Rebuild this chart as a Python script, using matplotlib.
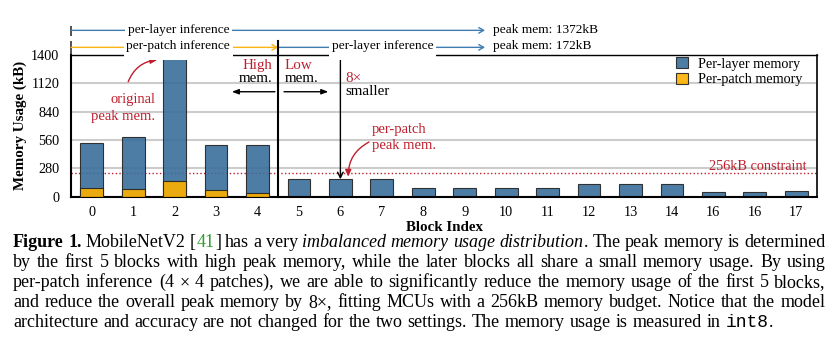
import matplotlib
matplotlib.use("Agg")
import matplotlib.pyplot as plt
import matplotlib.transforms as mtransforms
from matplotlib.path import Path

plt.rcParams['font.family'] = ['Liberation Serif', 'DejaVu Serif']

W, H = 835, 343

# data
block_labels = ['0', '1', '2', '3', '4', '5', '6', '7', '8', '9', '10', '11',
                '12', '13', '14', '16', '16', '17']
per_layer = [534, 590, 1372, 508, 508, 172, 172, 172, 85, 85, 85, 87,
             126, 126, 126, 50, 50, 57]
per_patch = [83, 76, 155, 69, 34]
peak_layer = 1372
peak_patch = 172
constraint = 232
yticks = [0, 280, 560, 840, 1120, 1400]

caption_lines = [
    [("Figure 1.", "bold"), (" MobileNetV2 [", "rm"), ("41", "cite"), ("] has a very ", "rm"),
     ("imbalanced memory usage distribution", "it"), (". The peak memory is determined", "rm")],
    [("by the first 5 blocks with high peak memory, while the later blocks all share a small "
      "memory usage. By using", "rm")],
    [("per-patch inference (4 \u00d7 4 patches), we are able to significantly reduce the memory "
      "usage of the first 5 blocks,", "rm")],
    [("and reduce the overall peak memory by 8\u00d7, fitting MCUs with a 256kB memory budget. "
      "Notice that the model", "rm")],
    [("architecture and accuracy are not changed for the two settings. The memory usage is "
      "measured in ", "rm"), ("int8", "tt"), (".", "rm")],
]

BLUE = '#3a6f9b'
ORANGE = '#fdb100'
RED = '#be1e2d'
LINE_BLUE = '#3f7db0'
LINE_ORANGE = '#fdb515'


def low_box(x0, y0, width, height, mutation_size):
    # white box that reaches down far enough to hide the top spine
    px = 0.2 * mutation_size
    top = 0.15 * mutation_size
    down = 0.6 * mutation_size
    return Path([(x0 - px, y0 - down), (x0 + width + px, y0 - down),
                 (x0 + width + px, y0 + height + top), (x0 - px, y0 + height + top),
                 (x0 - px, y0 - down)], closed=True)


def split_words(runs):
    words, cur = [], []
    for text, style in runs:
        for i, part in enumerate(text.split(' ')):
            if i > 0 and cur:
                words.append(cur)
                cur = []
            if part:
                cur.append((part, style))
    if cur:
        words.append(cur)
    return words


def draw_caption(fig, lines, x0, x1, y0, dy, size):
    styles = {
        'rm': dict(color='black'),
        'bold': dict(color='black', fontweight='bold'),
        'it': dict(color='black', fontstyle='italic'),
        'cite': dict(color='#2e9e2e'),
        'tt': dict(color='black', family=['Liberation Mono', 'DejaVu Sans Mono']),
    }
    renderer = fig.canvas.get_renderer()
    for i, runs in enumerate(lines):
        y = 1 - (y0 + i * dy) / H
        placed = []
        for word in split_words(runs):
            pieces = []
            for s, st in word:
                t = fig.text(0, y, s, fontsize=size, va='baseline', **styles[st])
                pieces.append((t, t.get_window_extent(renderer).width))
            placed.append(pieces)
        widths = [sum(w for _, w in p) for p in placed]
        if i == len(lines) - 1:
            gap = 0.25 * size * fig.dpi / 72
        else:
            gap = (x1 - x0 - sum(widths)) / (len(placed) - 1)
        x = x0
        for pieces in placed:
            for t, w in pieces:
                t.set_x(x / W)
                x += w + 0.4
            x += gap


fig = plt.figure(figsize=(W / 100, H / 100), dpi=100)
ax = fig.add_axes([71 / W, 1 - 196.7 / H, 746 / W, 141.7 / H])

x = list(range(len(per_layer)))
ax.bar(x, per_layer, width=0.55, color=BLUE, alpha=0.9, edgecolor='#222222',
       linewidth=0.8, zorder=2, label='Per-layer memory')
ax.bar(x[:len(per_patch)], per_patch, width=0.55, color=ORANGE, alpha=0.9,
       edgecolor='#222222', linewidth=0.8, zorder=3, label='Per-patch memory')

ax.axhline(constraint, color=RED, ls=':', lw=1, zorder=1.5)
ax.text(17.24, constraint + 31, '256kB constraint', ha='right', va='baseline',
        color=RED, fontsize=10.3)

ax.set_xlim(-0.5, 17.5)
ax.set_ylim(0, 1400)
ax.set_yticks(yticks)
ax.set_xticks(x)
ax.set_xticklabels(block_labels)
ax.tick_params(axis='both', length=0, labelsize=10.3)
ax.tick_params(axis='y', pad=8.5)
ax.tick_params(axis='x', pad=7)
ax.yaxis.grid(True, color='#cccccc', lw=1.5)
ax.set_axisbelow(True)
for side in ['left', 'bottom']:
    ax.spines[side].set_linewidth(1.5)
ax.spines['top'].set_linewidth(1.0)
ax.spines['right'].set_linewidth(1.2)

ax.set_ylabel('Memory Usage (kB)', fontweight='bold', fontsize=10.8, labelpad=3)
ax.set_xlabel('Block Index', fontweight='bold', fontsize=10.8, labelpad=1)

ax.legend(loc='upper left', bbox_to_anchor=(0.811, 0.985), frameon=False, fontsize=10.2,
          handlelength=0.85, handleheight=0.85, handletextpad=0.7, labelspacing=0.15,
          borderpad=0, borderaxespad=0)

# inference scheme rows above the axes
blend = mtransforms.blended_transform_factory(ax.transData, ax.transAxes)
split = len(per_patch) - 0.5
row1, row2 = 1.174, 1.054
ax.vlines([-0.5, -0.5], [1.133, 1.0], [1.204, 1.099], transform=blend,
          color='#333333', lw=1.2, clip_on=False)
ax.axvline(split, ymin=0, ymax=1.099, color='black', lw=1.5, clip_on=False, zorder=4)

arrow_kw = dict(shrinkA=0, shrinkB=0, lw=1)
ax.annotate('', xy=(9.49, row1), xytext=(-0.5, row1), xycoords=blend, textcoords=blend,
            arrowprops=dict(arrowstyle='->, head_length=0.35, head_width=0.2',
                            color=LINE_BLUE, **arrow_kw), zorder=3)
ax.annotate('', xy=(split, row2), xytext=(-0.5, row2), xycoords=blend, textcoords=blend,
            arrowprops=dict(arrowstyle='->, head_length=0.35, head_width=0.2',
                            color=LINE_ORANGE, **arrow_kw), zorder=3)
ax.annotate('', xy=(9.49, row2), xytext=(split, row2), xycoords=blend, textcoords=blend,
            arrowprops=dict(arrowstyle='->, head_length=0.35, head_width=0.2',
                            color=LINE_BLUE, **arrow_kw), zorder=3)

ax.text(2.09, 1.155, 'per-layer inference', transform=blend, ha='center', va='baseline',
        fontsize=9.6, zorder=6, bbox=dict(boxstyle='square,pad=0.2', fc='white', ec='none'))
ax.text(2.09, 1.040, 'per-patch inference', transform=blend, ha='center', va='baseline',
        fontsize=9.6, zorder=6, bbox=dict(boxstyle=low_box, fc='white', ec='none'))
ax.text(7.02, 1.040, 'per-layer inference', transform=blend, ha='center', va='baseline',
        fontsize=9.6, zorder=6, bbox=dict(boxstyle=low_box, fc='white', ec='none'))
ax.text(9.69, 1.155, 'peak mem: %dkB' % peak_layer, transform=blend, ha='left',
        va='baseline', fontsize=9.6)
ax.text(9.69, 1.040, 'peak mem: %dkB' % peak_patch, transform=blend, ha='left',
        va='baseline', fontsize=9.6)

# annotations inside the axes
ax.text(4.35, 1260, 'High', ha='right', va='baseline', color=RED, fontsize=10.8)
ax.text(4.35, 1136, 'mem.', ha='right', va='baseline', color='black', fontsize=10.8)
ax.text(4.66, 1260, 'Low', ha='left', va='baseline', color=RED, fontsize=10.8)
ax.text(4.66, 1136, 'mem.', ha='left', va='baseline', color='black', fontsize=10.8)
ax.annotate('', xy=(3.38, 1037), xytext=(4.42, 1037),
            arrowprops=dict(arrowstyle='-|>, head_length=0.4, head_width=0.15',
                            color='black', **arrow_kw))
ax.annotate('', xy=(5.71, 1037), xytext=(4.64, 1037),
            arrowprops=dict(arrowstyle='-|>, head_length=0.4, head_width=0.15',
                            color='black', **arrow_kw))

ax.annotate('', xy=(6, peak_patch), xytext=(6, peak_layer),
            arrowprops=dict(arrowstyle=']->, widthA=0.35, lengthA=0',
                            color='black', **arrow_kw))
ax.text(6.11, 1136, '8\u00d7', ha='left', va='baseline', color=RED, fontsize=10.8)
ax.text(6.11, 1005, 'smaller', ha='left', va='baseline', color='black', fontsize=10.8)

ax.text(1.53, 929, 'original', ha='right', va='baseline', color=RED, fontsize=10.5)
ax.text(1.53, 758, 'peak mem.', ha='right', va='baseline', color=RED, fontsize=10.5)
ax.annotate('', xy=(1.58, 1351), xytext=(0.88, 1136),
            arrowprops=dict(arrowstyle='-|>, head_length=0.4, head_width=0.18', color=RED,
                            connectionstyle='arc3,rad=-0.3', **arrow_kw))

ax.text(6.76, 632, 'per-patch', ha='left', va='baseline', color=RED, fontsize=10.5)
ax.text(6.76, 471, 'peak mem.', ha='left', va='baseline', color=RED, fontsize=10.5)
ax.annotate('', xy=(6.19, 198), xytext=(6.69, 540),
            arrowprops=dict(arrowstyle='-|>, head_length=0.4, head_width=0.18', color=RED,
                            connectionstyle='arc3,rad=0.3', **arrow_kw))

draw_caption(fig, caption_lines, 13, 818, 247, 20, 13.0)

fig.savefig('out.png', dpi=100)
